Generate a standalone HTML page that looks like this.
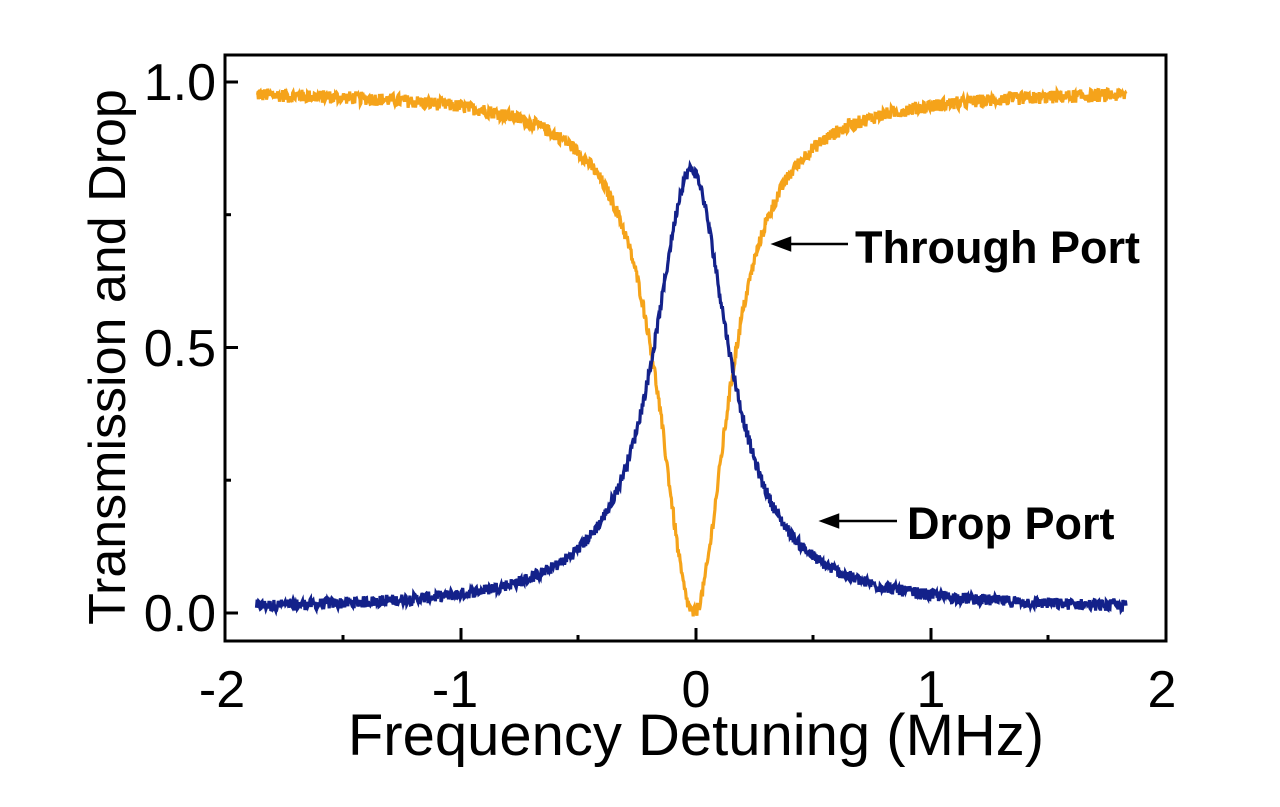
<!DOCTYPE html>
<html><head><meta charset="utf-8"><style>
html,body{margin:0;padding:0;background:#fff;}
svg{display:block;font-family:"Liberation Sans",Arial,sans-serif;}
</style></head><body>
<svg id="s" width="1280" height="807" viewBox="0 0 1280 807" xmlns="http://www.w3.org/2000/svg">
<rect width="1280" height="807" fill="#fff"/>
<g id="curves"></g>
<rect x="225" y="55" width="941" height="586" fill="none" stroke="#000" stroke-width="3"/>
<g stroke="#000" stroke-width="3">
<line x1="225" y1="82" x2="238" y2="82"/><line x1="225" y1="347.5" x2="238" y2="347.5"/><line x1="225" y1="613" x2="238" y2="613"/>
<line x1="225" y1="214.7" x2="231" y2="214.7"/><line x1="225" y1="480.2" x2="231" y2="480.2"/>
<line x1="461" y1="641" x2="461" y2="628"/><line x1="696" y1="641" x2="696" y2="628"/><line x1="931" y1="641" x2="931" y2="628"/>
<line x1="343" y1="641" x2="343" y2="635"/><line x1="578" y1="641" x2="578" y2="635"/><line x1="813" y1="641" x2="813" y2="635"/><line x1="1048" y1="641" x2="1048" y2="635"/>
</g>
<g font-size="52" text-anchor="end" fill="#000">
<text x="216" y="100">1.0</text><text x="216" y="366">0.5</text><text x="216" y="631">0.0</text>
</g>
<g font-size="52" text-anchor="middle" fill="#000">
<text x="222" y="707">-2</text><text x="455" y="707">-1</text><text x="696" y="707">0</text><text x="931" y="707">1</text><text x="1162" y="707">2</text>
</g>
<text x="696" y="755" font-size="58" text-anchor="middle">Frequency Detuning (MHz)</text>
<text transform="translate(125,357) rotate(-90)" font-size="52" text-anchor="middle">Transmission and Drop</text>
<g font-size="45" font-weight="bold">
<text x="855" y="263">Through Port</text>
<text x="907" y="539">Drop Port</text>
</g>
<g stroke="#000" stroke-width="2.5" fill="#000">
<line x1="848" y1="244" x2="785" y2="244"/><polygon points="774,244 790,238 790,250"/>
<line x1="897" y1="521" x2="833" y2="521"/><polygon points="822,521 838,515 838,527"/>
</g>
</svg>
<script>
(function(){
var seed=12345;function r(){seed=(seed*1103515245+12345)%2147483648;return seed/2147483648;}
function X(x){return 696+x*235;}function Y(y){return 613-y*531;}
var a=[],b=[];
for(var i=0;i<=1400;i++){var x=-1.87+3.70*i/1400;
var t=0.985-0.985/(1+Math.pow((x+0.01)/0.18,2))+(r()-0.5)*0.025;
var d=0.83/(1+Math.pow((x+0.02)/0.194,2))+0.005+(r()-0.5)*0.022;
a.push(X(x).toFixed(1)+","+Y(t).toFixed(1));b.push(X(x).toFixed(1)+","+Y(d).toFixed(1));}
var g=document.getElementById("curves");
g.innerHTML='<polyline fill="none" stroke="#F5A31A" stroke-width="3.2" points="'+a.join(" ")+'"/>'+
'<polyline fill="none" stroke="#13218A" stroke-width="3.2" points="'+b.join(" ")+'"/>';
})();
</script>
</body></html>
